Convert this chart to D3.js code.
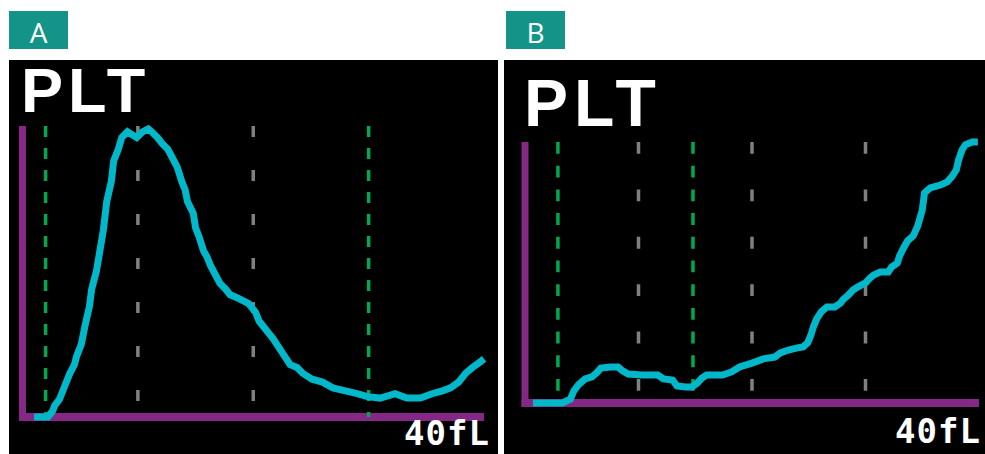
<!DOCTYPE html>
<html><head><meta charset="utf-8">
<script src="https://cdn.jsdelivr.net/npm/d3@7"></script>
<style>html,body{margin:0;padding:0;background:#fff;}svg{display:block;}</style>
</head><body>
<script>
// ---- data ----
const panelLabels = ["A", "B"];
const titleText = "PLT";
const axisLabel = "40fL";
const xMax = 40; // fL
const aFL    = [1.0,2.2,2.6,2.8,3.2,3.5,3.8,4.1,4.5,4.7,5.1,5.4,5.8,6.0,6.4,6.7,7.0,7.3,7.7,7.9,8.3,8.6,9.1,9.9,10.4,10.9,11.2,11.7,12.1,12.6,13.0,13.4,13.8,14.1,14.3,14.8,15.0,15.3,15.7,16.0,16.3,16.7,17.1,17.6,18.0,18.6,19.1,19.6,20.2,20.5,20.9,21.3,21.7,22.2,22.7,23.2,23.8,24.3,25.1,26.0,26.9,28.0,29.0,29.9,31.0,32.3,33.3,34.5,35.5,36.4,37.1,37.8,38.4,39.0,39.7,40.0];
const aCount = [0,0,2,4,6,9,12,15,18,21,25,31,38,44,50,57,64,74,81,88,92,96,98,96,98,99,98,96,94,92,89,86,81,78,74,70,65,62,57,55,52,49,46,44,42,41,40,39,36,33,31,29,27,24,21,18,17,15,13,12,10,9,8,7,6.5,8,6.5,6.5,8,9,10,12,15,17,19,20];
const bFL    = [0.7,2.6,3.3,4.0,4.3,4.7,5.3,5.9,6.3,6.7,7.5,8.2,8.6,9.1,10.3,11.7,12.2,13.0,13.4,14.1,14.7,15.2,15.6,16.0,17.4,18.2,18.9,20.0,21.0,22.0,22.5,23.2,24.0,24.5,24.9,25.2,25.4,25.7,26.1,26.6,27.3,27.8,28.0,28.5,28.9,29.3,30.0,30.4,30.7,31.3,32.0,32.3,32.8,33.0,33.4,33.7,34.2,34.6,35.0,35.2,35.7,36.6,37.2,37.6,38.0,38.2,38.5,38.8,39.4,39.9];
const bCount = [0,0,0,1.5,4.6,6.9,9.2,10,11.5,13.4,13.8,13.8,12.3,11.1,10.7,10.7,9.2,8.8,6.5,6.1,6.1,7.7,9.6,10.7,10.7,11.9,13.8,15.3,16.9,17.6,19.2,20.3,21.1,21.5,23,26.1,29.1,32.2,34.9,36.8,36.8,38.3,39.5,41.4,43.3,44.4,46,47.9,49,50.2,50.2,52.1,53.6,56.3,59.8,62.1,64,67.8,73.9,80.5,82.4,83.5,84.7,86.6,89.3,93.1,96.9,98.9,100,100];
const aGreenFL = [2, 30];
const aGrayFL  = [10, 20];
const bGreenFL = [2.9, 14.8];
const bGrayFL  = [10, 20, 30];

// ---- layout / style ----
const W = 985, H = 454;
const C = {teal:"#149488", purple:"#852784", cyan:"#00b8c9", green:"#00a94f", gray:"#808080"};
const panels = [
  {label: panelLabels[0], fl: aFL, cnt: aCount, green: aGreenFL, gray: aGrayFL,
   box:{x:9,y:11,w:59,h:38}, rect:{x:9,y:60,w:489,h:394},
   x0:22.5, x1:484, yBase:417, yTop:126, unit:11, greenEnd:417, grayEnd:402,
   title:{x:21, y:112, size:63, ls:5}, axl:{x:404, y:445, size:34}},
  {label: panelLabels[1], fl: bFL, cnt: bCount, green: bGreenFL, gray: bGrayFL,
   box:{x:506,y:11,w:59,h:38}, rect:{x:504,y:60,w:481,h:394},
   x0:525, x1:979, yBase:403, yTop:142, unit:11.85, greenEnd:391, grayEnd:391,
   title:{x:524, y:126, size:66, ls:6}, axl:{x:895, y:443, size:34}}
];

const svg = d3.select("body").append("svg").attr("width", W).attr("height", H);
svg.append("rect").attr("width", W).attr("height", H).attr("fill", "#fff");

panels.forEach(p => {
  const g = svg.append("g");
  g.append("rect").attr("x", p.box.x).attr("y", p.box.y).attr("width", p.box.w).attr("height", p.box.h).attr("fill", C.teal);
  g.append("text").attr("x", p.box.x + p.box.w/2).attr("y", p.box.y + 32)
    .attr("text-anchor", "middle").attr("fill", "#fff")
    .style("font-family", "'Open Sans'").style("font-size", "28px").text(p.label);
  g.append("rect").attr("x", p.rect.x).attr("y", p.rect.y).attr("width", p.rect.w).attr("height", p.rect.h).attr("fill", "#000");

  const x = d3.scaleLinear().domain([0, xMax]).range([p.x0, p.x1]);
  const y = d3.scaleLinear().domain([0, 100]).range([p.yBase, p.yTop]);

  g.append("text").attr("x", p.title.x).attr("y", p.title.y).attr("fill", "#fff")
    .style("font-family", "'Liberation Sans'").style("font-weight", "bold")
    .style("letter-spacing", p.title.ls + "px")
    .style("font-size", p.title.size + "px").text(titleText);

  g.selectAll(".gray").data(p.gray).join("line")
    .attr("x1", d => x(d)).attr("x2", d => x(d))
    .attr("y1", p.yTop).attr("y2", p.grayEnd)
    .attr("stroke", C.gray).attr("stroke-width", 3.5)
    .attr("stroke-dasharray", `${p.unit},${p.unit*3}`);

  g.append("line").attr("x1", x(0)).attr("x2", x(0)).attr("y1", y(100)).attr("y2", p.yBase + 4)
    .attr("stroke", C.purple).attr("stroke-width", 7);
  g.append("line").attr("x1", x(0) - 3.5).attr("x2", x(xMax)).attr("y1", p.yBase).attr("y2", p.yBase)
    .attr("stroke", C.purple).attr("stroke-width", 8);

  g.selectAll(".green").data(p.green).join("line")
    .attr("x1", d => x(d)).attr("x2", d => x(d))
    .attr("y1", p.yTop).attr("y2", p.greenEnd)
    .attr("stroke", C.green).attr("stroke-width", 3.5)
    .attr("stroke-dasharray", `${p.unit},${p.unit}`);

  const pts = p.fl.map((f, i) => [f, p.cnt[i]]);
  g.append("path").datum(pts)
    .attr("d", d3.line().x(d => x(d[0])).y(d => y(d[1])).curve(d3.curveLinear))
    .attr("fill", "none").attr("stroke", C.cyan).attr("stroke-width", 7)
    .attr("stroke-linejoin", "miter").attr("stroke-linecap", "butt");

  g.append("text").attr("x", p.axl.x).attr("y", p.axl.y).attr("fill", "#fff")
    .style("font-family", "'DejaVu Sans Mono'").style("font-weight", "bold")
    .style("letter-spacing", "1px")
    .style("font-size", p.axl.size + "px").text(axisLabel);
});
</script>
</body></html>
